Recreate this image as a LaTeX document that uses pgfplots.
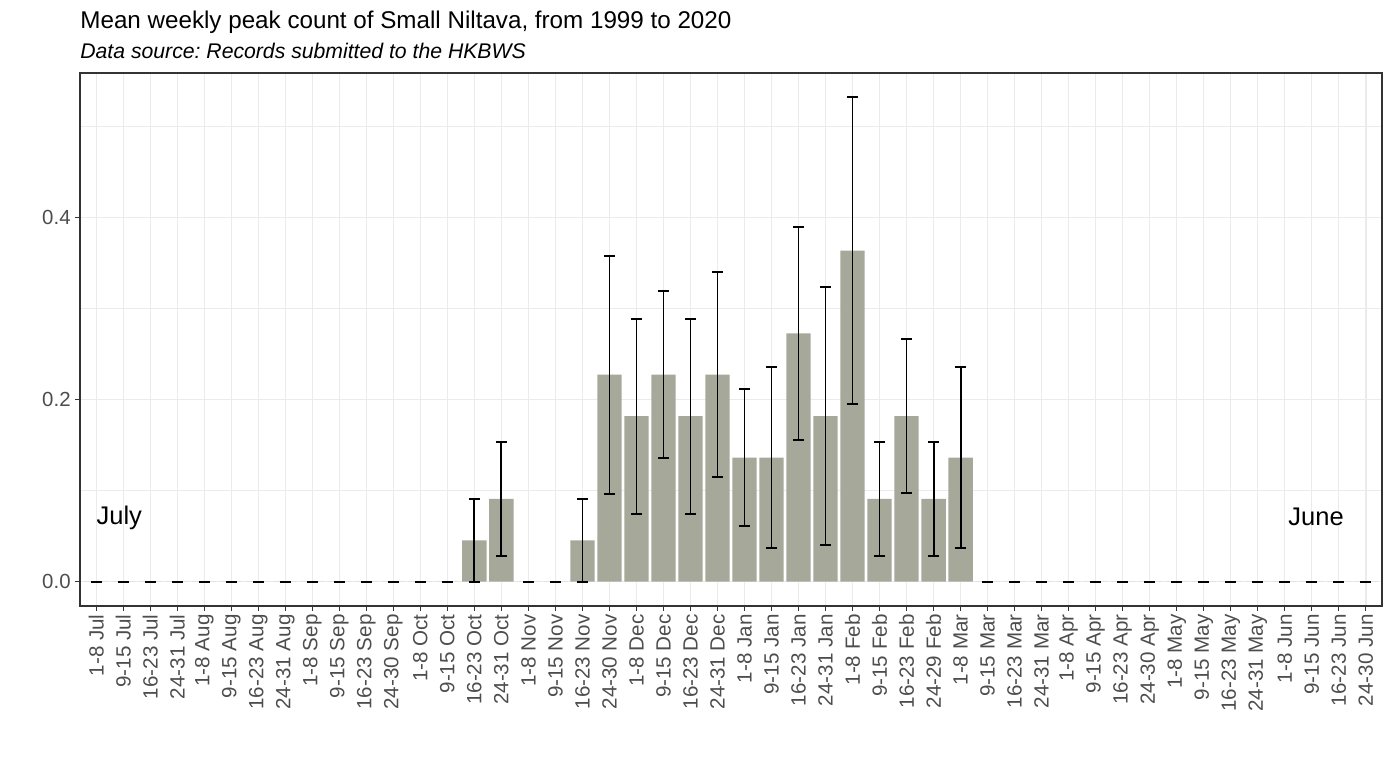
\documentclass[border=0pt]{standalone}
\usepackage{fontspec}
\setmainfont{Liberation Sans}
\usepackage{pgfplots}
\usepackage{pgfplotstable}
\pgfplotsset{compat=1.18}
\definecolor{barcol}{HTML}{A6A89A}
\definecolor{gridcol}{HTML}{EBEBEB}
\definecolor{tickcol}{HTML}{4D4D4D}
\definecolor{framecol}{HTML}{333333}
\frenchspacing

\pgfplotstableread{
x y e
0 0 0
1 0 0
2 0 0
3 0 0
4 0 0
5 0 0
6 0 0
7 0 0
8 0 0
9 0 0
10 0 0
11 0 0
12 0 0
13 0 0
14 0.04545 0.0455
15 0.09091 0.0629
16 0 0
17 0 0
18 0.04545 0.0455
19 0.22727 0.1305
20 0.18182 0.1070
21 0.22727 0.0914
22 0.18182 0.1070
23 0.22727 0.1124
24 0.13636 0.0747
25 0.13636 0.0998
26 0.27273 0.1173
27 0.18182 0.1417
28 0.36364 0.1683
29 0.09091 0.0624
30 0.18182 0.0843
31 0.09091 0.0624
32 0.13636 0.0998
33 0 0
34 0 0
35 0 0
36 0 0
37 0 0
38 0 0
39 0 0
40 0 0
41 0 0
42 0 0
43 0 0
44 0 0
45 0 0
46 0 0
47 0 0
}\weekly

\begin{document}
\begin{tikzpicture}
\useasboundingbox (0,0) rectangle (696pt,380pt);
\begin{axis}[
  at={(40pt,77pt)}, anchor=south west,
  scale only axis, width=651pt, height=266.5pt,
  xmin=-0.6, xmax=47.6, ymin=-0.0267, ymax=0.5586,
  xtick={0,...,47},
  xticklabels={1-8 Jul,9-15 Jul,16-23 Jul,24-31 Jul,
    1-8 Aug,9-15 Aug,16-23 Aug,24-31 Aug,
    1-8 Sep,9-15 Sep,16-23 Sep,24-30 Sep,
    1-8 Oct,9-15 Oct,16-23 Oct,24-31 Oct,
    1-8 Nov,9-15 Nov,16-23 Nov,24-30 Nov,
    1-8 Dec,9-15 Dec,16-23 Dec,24-31 Dec,
    1-8 Jan,9-15 Jan,16-23 Jan,24-31 Jan,
    1-8 Feb,9-15 Feb,16-23 Feb,24-29 Feb,
    1-8 Mar,9-15 Mar,16-23 Mar,24-31 Mar,
    1-8 Apr,9-15 Apr,16-23 Apr,24-30 Apr,
    1-8 May,9-15 May,16-23 May,24-31 May,
    1-8 Jun,9-15 Jun,16-23 Jun,24-30 Jun},
  ytick={0,0.2,0.4}, yticklabels={0.0,0.2,0.4},
  minor ytick={0.1,0.3,0.5},
  xmajorgrids, ymajorgrids, yminorgrids,
  major grid style={gridcol, line width=0.7pt},
  minor grid style={gridcol, line width=0.35pt},
  tick align=outside, tick pos=left,
  major tick length=2.5pt, minor tick length=0pt,
  tick style={framecol, line width=0.5pt},
  axis line style={framecol, line width=0.6pt},
  xticklabel style={rotate=90, anchor=east, font=\fontsize{10.3}{12}\selectfont, text=tickcol, inner sep=1.5pt},
  yticklabel style={font=\fontsize{10.2}{12}\selectfont, text=tickcol, inner sep=2pt},
]
\addplot[ybar, bar width=0.9, fill=barcol, draw=none]
  table[x=x, y=y]{\weekly};
\addplot[draw=none, mark=none, forget plot,
  error bars/.cd, y dir=both, y explicit, error mark=|,
  error bar style={draw=black, line width=0.9pt},
  error mark options={draw=black, line width=1pt, mark size=2.7pt}]
  table[x=x, y=y, y error=e]{\weekly};
\node[anchor=base west, inner sep=0, font=\fontsize{12.75}{15}\selectfont] at (axis cs:0,0.063) {July};
\node[anchor=base east, inner sep=0, font=\fontsize{12.75}{15}\selectfont] at (axis cs:46.2,0.0615) {June};
\end{axis}
\node[anchor=base west, inner sep=0, font=\fontsize{12.1}{14}\selectfont] at (40pt,365.75pt) {Mean weekly peak count of Small Niltava, from 1999 to 2020};
\node[anchor=base west, inner sep=0, font=\fontsize{10.6}{12}\selectfont\itshape] at (40pt,350.75pt) {Data source: Records submitted to the HKBWS};
\end{tikzpicture}
\end{document}
